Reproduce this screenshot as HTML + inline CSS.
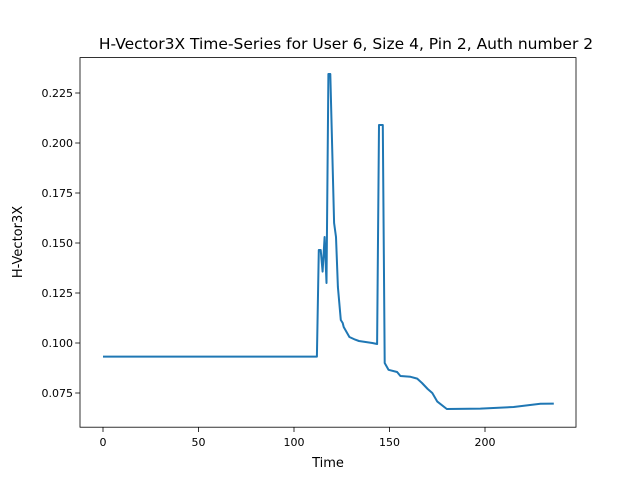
<!DOCTYPE html>
<html><head><meta charset="utf-8"><style>
body{margin:0;background:#fff;}
svg{display:block;font-family:"DejaVu Sans","Liberation Sans",sans-serif;}
</style></head><body>
<svg id="chart" width="640" height="480">
<rect width="640" height="480" fill="#fff"/>
<text x="346" y="49" text-anchor="middle" font-size="15.5" fill="#000">H-Vector3X Time-Series for User 6, Size 4, Pin 2, Auth number 2</text>
<g id="xticks"></g>
<g id="yticks"></g>
<path id="line" fill="none" stroke="#1f77b4" stroke-width="2" stroke-linejoin="round"/>
<rect x="80" y="57.6" width="496" height="369.6" fill="none" stroke="#000" stroke-width="0.8"/>
<text x="328" y="467" text-anchor="middle" font-size="13">Time</text>
<text transform="translate(22,242) rotate(-90)" text-anchor="middle" font-size="13">H-Vector3X</text>
</svg>
<script>
const times=[0,112,113,114,115,116,117,118,119,121,122,123,124.5,125.5,126,129,132,134,141,143.5,144.5,146.5,147.5,149.5,154,155.7,161,164.5,167,170,172.4,175,180,197.6,215,229,236];
const values=[0.0932,0.0932,0.1465,0.1465,0.1357,0.153,0.130,0.2345,0.2345,0.160,0.153,0.128,0.1115,0.110,0.108,0.103,0.1017,0.101,0.100,0.0995,0.209,0.209,0.090,0.0866,0.0855,0.0835,0.0831,0.0822,0.080,0.077,0.075,0.0707,0.067,0.0672,0.068,0.0696,0.0697];
const xTickVals=[0,50,100,150,200];
const yTickVals=[0.075,0.100,0.125,0.150,0.175,0.200,0.225];
const X=t=>103+(t-0)*(485-103)/200;
const Y=v=>343-(v-0.1)*2000;
const NS='http://www.w3.org/2000/svg';
const xg=document.getElementById('xticks'),yg=document.getElementById('yticks');
xTickVals.forEach(t=>{
 const l=document.createElementNS(NS,'line');
 l.setAttribute('x1',X(t));l.setAttribute('x2',X(t));l.setAttribute('y1',427.2);l.setAttribute('y2',432);l.setAttribute('stroke','#000');l.setAttribute('stroke-width','0.8');
 
 
 xg.appendChild(l);
 const tx=document.createElementNS(NS,'text');
 tx.setAttribute('x',X(t));tx.setAttribute('y',446);tx.setAttribute('text-anchor','middle');tx.setAttribute('font-size','11');
 tx.textContent=t;
 
 
 xg.appendChild(tx);
});
yTickVals.forEach(v=>{
 const l=document.createElementNS(NS,'line');
 l.setAttribute('x1',75.2);l.setAttribute('x2',80);l.setAttribute('y1',Y(v));l.setAttribute('y2',Y(v));l.setAttribute('stroke','#000');l.setAttribute('stroke-width','0.8');
 
 
 yg.appendChild(l);
 const tx=document.createElementNS(NS,'text');
 tx.setAttribute('x',73);tx.setAttribute('y',Y(v)+4);tx.setAttribute('text-anchor','end');tx.setAttribute('font-size','11');
 tx.textContent=v.toFixed(3);
 
 
 yg.appendChild(tx);
});
document.getElementById('line').setAttribute('d',times.map((t,i)=>(i?'L':'M')+X(t).toFixed(1)+','+Y(values[i]).toFixed(1)).join(''));
</script>
</body></html>
